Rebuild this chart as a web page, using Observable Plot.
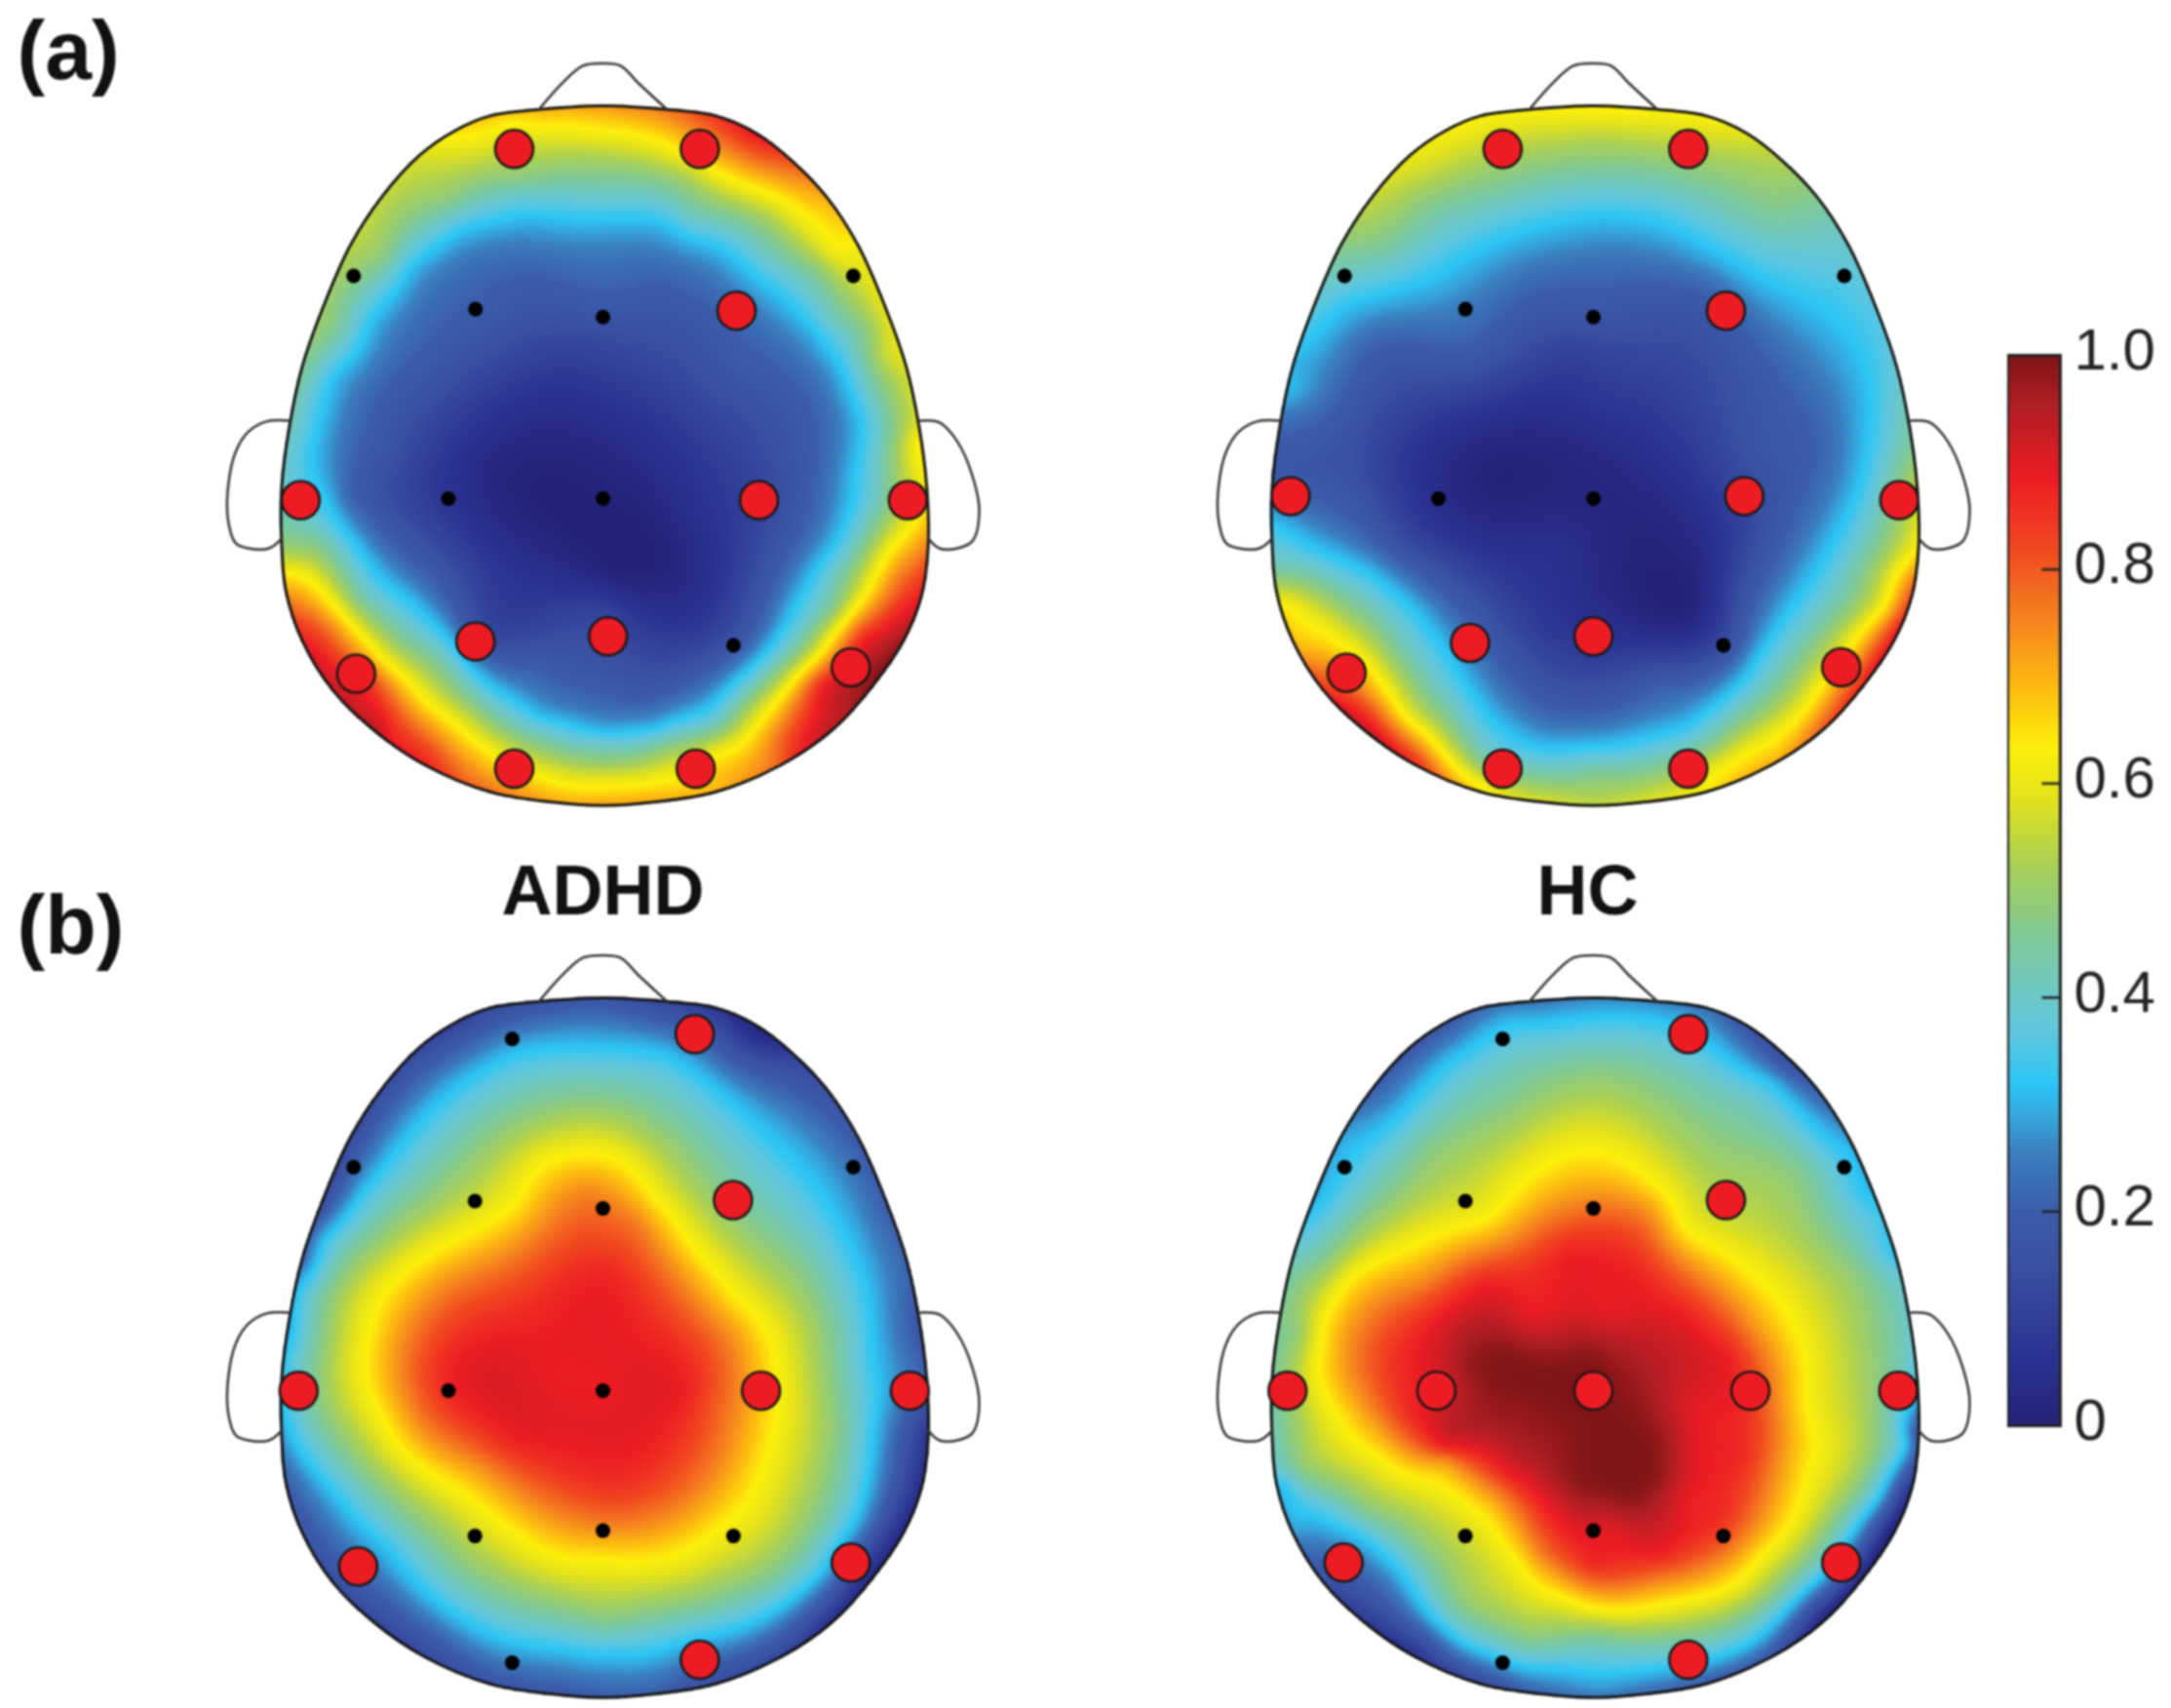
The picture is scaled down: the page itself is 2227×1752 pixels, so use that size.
<!DOCTYPE html>
<html><head><meta charset="utf-8">
<style>
html,body{margin:0;padding:0;background:#fff}
#fig{position:relative;width:2227px;height:1752px;overflow:hidden}
#fig svg{position:absolute;filter:blur(0.8px)}
</style>
<script src="https://cdn.jsdelivr.net/npm/d3@7"></script>
<script src="https://cdn.jsdelivr.net/npm/@observablehq/plot@0.6"></script>
</head><body><div id="fig"></div>
<script>
const colorStops = [0,.06,.15,.2,.253,.287,.32,.367,.4,.454,.52,.588,.634,.688,.755,.82,.885,.955,1];
const colorRamp = ["#232478","#2a3190","#3a50a2","#3b5cab","#3b7dbd","#35a5dc","#2cc6f5","#5fc6de","#6cc8c8","#7ec99a","#a6cf5a","#e4e21a","#fdf00b","#fdbd10","#f5821f","#f1481f","#ed1c24","#b01e23","#7f1416"];
const colorTicks = [0,.2,.4,.6,.8,1];

// Outline in head units (readings of the top-left panel)
const headOutline = [[780,115],[900,122],[1000,135],[1080,170],[1150,225],[1220,300],[1280,395],[1330,510],[1375,640],[1400,760],[1415,880],[1418,1000],[1405,1100],[1370,1190],[1310,1280],[1230,1370],[1130,1440],[1000,1495],[880,1515],[780,1522],[680,1515],[560,1495],[430,1440],[330,1370],[250,1290],[190,1190],[158,1090],[150,1000],[150,880],[165,760],[190,640],[235,510],[285,395],[345,300],[420,215],[490,165],[560,135],[660,122]];
const noseOutline = [[655,122],[700,70],[740,35],[780,30],[815,35],[850,70],[905,122]];
const leftEar = [[165,748],[120,750],[85,770],[60,810],[45,880],[45,950],[60,995],[85,1005],[125,1005],[150,985]];
const rightEar = [[1403,748],[1440,752],[1475,790],[1505,860],[1518,930],[1505,990],[1475,1005],[1440,1005],[1418,985]];

const samplesADHDa = [
[650,900,0],[780,905,0],[880,1040,0],[800,1060,.01],[560,860,.02],[950,930,.05],[1020,1020,.08],[780,700,.07],[700,620,.1],[600,1060,.07],[500,1000,.1],[780,1130,.11],
[530,525,.2],[780,500,.2],[780,560,.15],[1040,640,.18],[1150,800,.17],[1050,1200,.2],[530,1190,.17],[790,1280,.19],[350,800,.17],[280,900,.22],[1120,650,.2],[420,620,.2],[950,1270,.2],[640,1240,.2],
[780,340,.32],[620,335,.32],[500,365,.32],[400,440,.32],[320,550,.32],[250,660,.32],[210,800,.32],[235,900,.32],[310,1020,.32],[400,1110,.32],[480,1190,.32],[560,1280,.32],[660,1345,.32],[780,1375,.32],[880,1365,.32],[1000,1310,.32],[1090,1220,.32],[1160,1110,.32],[1235,990,.32],[1270,870,.32],[1285,760,.32],[1250,650,.32],[1190,560,.32],[1100,475,.32],[1000,395,.32],[900,350,.32],
[780,295,.4],[620,290,.4],[950,340,.4],[1100,420,.4],[1220,540,.4],[1320,760,.4],[1310,900,.4],[780,1395,.4],[1000,1350,.4],[1130,1210,.4],[1220,1070,.4],[660,1370,.4],[480,1230,.4],
[780,250,.47],[950,295,.47],[1100,370,.47],[1200,450,.47],[1290,570,.47],[1340,720,.47],[1340,860,.47],[1290,1000,.47],[1230,1120,.47],[1150,1220,.47],[1050,1320,.47],[900,1400,.47],[780,1425,.47],[650,1395,.47],[520,1310,.47],[400,1200,.47],[300,1110,.47],[220,1000,.47],[620,265,.47],[470,310,.47],[350,420,.47],[260,560,.45],
[780,205,.55],[620,205,.55],[470,240,.55],[950,250,.55],[1100,325,.55],[1230,440,.55],[1330,620,.55],[1380,760,.55],
[780,165,.63],[700,155,.63],[850,175,.63],[960,225,.63],[1100,290,.63],[1180,340,.63],[1240,400,.63],[1395,790,.63],[1340,1010,.63],[1290,1100,.63],[1200,1220,.63],[1120,1310,.63],[1000,1420,.63],[900,1470,.63],[780,1480,.63],[650,1460,.63],[540,1400,.63],[430,1310,.63],[350,1230,.63],[270,1140,.63],[190,1060,.63],[600,150,.63],
[780,118,.72],[900,125,.76],[1000,138,.84],[1080,175,.88],[1150,230,.8],[1220,305,.7],[1280,395,.62],[1330,510,.6],[1375,640,.58],[1400,760,.6],[1415,880,.63],[1418,1000,.76],[1405,1100,.89],[1370,1190,.98],[1310,1280,1],[1230,1370,.95],[1130,1440,.8],[1000,1495,.7],[880,1515,.72],[780,1522,.72],[680,1515,.72],[560,1495,.78],[430,1440,.88],[330,1370,.95],[250,1290,.93],[190,1190,.88],[158,1090,.72],[150,1000,.5],[150,880,.4],[165,760,.42],[190,640,.46],[235,510,.5],[285,395,.54],[345,300,.55],[420,215,.58],[490,165,.65],[560,135,.68],[660,122,.7],
[1060,220,.76],[1360,1060,.76],[1290,1180,.86],[1210,1280,.88],[1120,1380,.76],[320,1270,.84],[420,1380,.8],[230,1170,.8],
[350,1390,.9],[300,1340,.93],[500,1470,.8],[1260,1340,.95],[1330,1220,.97],[1150,1420,.85],[1310,1180,.88],[1210,1330,.9]
];
const samplesHCa = [
[600,850,0],[780,850,.02],[900,1050,0],[950,1120,0],[850,1130,.02],[1000,1000,.05],[700,1000,.05],[450,820,.05],[780,700,.08],[730,620,.1],
[772,540,.17],[520,600,.2],[1100,800,.17],[1200,800,.2],[1120,650,.2],[400,1000,.15],[300,900,.17],[220,800,.18],[640,1150,.1],[600,1250,.2],[900,1280,.2],[1070,1100,.17],[1030,1200,.15],[350,600,.2],[1000,500,.2],[800,450,.22],[650,470,.22],
[780,335,.32],[620,370,.32],[500,430,.32],[400,480,.32],[280,520,.32],[210,590,.32],[175,670,.32],[900,350,.32],[1000,400,.32],[1100,460,.32],[1200,510,.32],[1280,590,.32],[1310,680,.32],[1310,760,.32],[1290,880,.32],[1250,970,.32],[1180,1090,.32],[1100,1210,.32],[1040,1290,.32],[940,1365,.32],[800,1400,.32],[680,1405,.32],[600,1370,.32],[530,1290,.32],[480,1210,.32],[420,1130,.32],[340,1060,.32],[240,1010,.32],[155,960,.32],
[780,230,.47],[600,260,.47],[450,310,.47],[350,385,.47],[960,250,.47],[1120,310,.47],[180,1060,.47],[280,1110,.47],[380,1210,.47],[470,1330,.47],[560,1440,.47],[1300,1050,.47],[1220,1170,.47],[1130,1290,.47],[1000,1400,.47],[780,1460,.47],
[780,170,.55],[600,190,.55],[450,250,.55],[950,185,.55],[1080,230,.52],
[780,125,.63],[1400,1010,.63],[1340,1120,.63],[1260,1220,.63],[1190,1320,.63],[1080,1410,.63],[1000,1460,.63],[170,1120,.63],[240,1170,.63],[330,1240,.63],[400,1340,.63],[480,1420,.63],[560,1480,.63],
[900,125,.63],[1000,140,.62],[1100,180,.58],[1180,260,.5],[1250,350,.42],[1300,450,.38],[1350,570,.37],[1385,700,.42],[1405,800,.48],[1408,900,.58],[1408,1000,.63],[1400,1080,.8],[1370,1170,.9],[1310,1270,.9],[1230,1360,.82],[1130,1430,.7],[1000,1490,.63],[880,1510,.58],[780,1520,.55],[680,1515,.58],[560,1495,.62],[430,1430,.82],[330,1360,.9],[250,1290,.85],[190,1190,.68],[150,1050,.45],[145,960,.33],[145,880,.2],[155,760,.22],[180,640,.3],[230,510,.37],[280,400,.47],[345,300,.55],[420,215,.6],[490,165,.62],[560,135,.63],[660,122,.63]
];
const samplesADHDb = [
[780,130,.18],[900,140,.14],[1000,155,.1],[1080,190,.03],[1150,250,.12],[1220,330,.17],[1280,430,.2],[1340,560,.2],[1385,680,.2],[1405,800,.17],[1415,900,.2],[1418,1000,.08],[1405,1120,.04],[1370,1210,.02],[1310,1300,.02],[1230,1390,.05],[1130,1460,.12],[1000,1520,.14],[880,1540,.2],[780,1545,.2],[680,1540,.18],[560,1520,.17],[430,1460,.13],[330,1390,.13],[250,1310,.15],[190,1210,.17],[158,1110,.2],[150,1010,.28],[150,900,.33],[165,790,.3],[190,660,.23],[235,530,.15],[285,420,.15],[345,320,.15],[420,235,.14],[490,185,.13],[560,150,.14],[660,135,.17],
[780,225,.32],[600,240,.32],[500,300,.32],[400,400,.32],[300,530,.32],[230,620,.32],[180,720,.32],[170,1020,.32],[250,1130,.32],[350,1240,.32],[450,1350,.32],[560,1420,.32],[700,1450,.32],[800,1460,.32],[950,1430,.32],[1100,1380,.32],[1200,1300,.32],[1280,1170,.32],[1310,1000,.32],[1310,860,.32],[1280,670,.32],[1200,510,.32],[1100,400,.32],[1000,310,.32],[900,240,.32],
[780,330,.47],[640,350,.47],[530,420,.47],[430,520,.47],[330,610,.47],[240,730,.47],[220,850,.47],[220,950,.47],[300,1080,.47],[400,1180,.47],[500,1280,.47],[600,1340,.47],[780,1390,.47],[950,1360,.47],[1100,1300,.47],[1200,1170,.47],[1240,1000,.47],[1220,800,.47],[1170,680,.47],[1050,560,.47],[950,430,.47],[880,370,.47],
[730,440,.63],[650,470,.63],[600,545,.63],[480,620,.63],[370,700,.63],[320,800,.63],[310,880,.63],[340,970,.63],[400,1060,.63],[500,1130,.63],[600,1210,.63],[700,1265,.63],[780,1270,.63],[900,1265,.63],[1000,1210,.63],[1090,1090,.63],[1115,1000,.63],[1120,880,.63],[1040,730,.63],[950,620,.63],[880,530,.63],[820,460,.63],
[385,900,.75],[400,800,.75],[490,700,.75],[650,600,.75],[745,520,.75],[850,580,.75],[930,700,.75],[1020,810,.75],[1040,950,.75],[1010,1060,.75],[930,1160,.75],[800,1200,.75],[700,1180,.75],[550,1080,.75],[430,1000,.75],
[780,620,.82],[430,900,.82],[980,950,.82],[800,1150,.82],
[780,680,.87],[620,780,.87],[470,900,.87],[600,1030,.87],[780,1090,.87],[900,1020,.87],[950,930,.87],[860,790,.87],[780,925,.885],[680,900,.885]
];
const samplesHCb = [
[780,130,.27],[900,140,.27],[1000,155,.24],[1080,190,.17],[1150,250,.15],[1220,330,.22],[1280,430,.3],[1340,560,.33],[1385,680,.36],[1400,800,.38],[1408,925,.32],[1400,1010,.2],[1385,1120,.1],[1350,1210,.03],[1300,1300,.02],[1220,1380,.05],[1120,1460,.18],[1000,1520,.18],[880,1540,.22],[780,1545,.25],[680,1540,.22],[560,1510,.17],[430,1440,.13],[330,1370,.13],[240,1290,.18],[180,1190,.3],[150,1100,.37],[142,1010,.42],[142,900,.45],[158,790,.47],[185,660,.42],[225,530,.3],[280,420,.3],[340,320,.22],[415,235,.2],[480,185,.2],[550,150,.23],[660,135,.25],
[600,180,.32],[480,260,.32],[380,370,.32],[300,440,.32],[900,170,.32],[1000,220,.32],[1120,300,.32],[1230,410,.32],[1300,520,.32],[1360,640,.32],[160,1110,.32],[230,1180,.32],[310,1220,.32],[390,1290,.32],[450,1380,.32],[520,1440,.32],[700,1490,.32],[850,1495,.32],[1000,1470,.32],[1130,1390,.32],[1230,1290,.32],[1330,1140,.32],[1385,1030,.32],
[780,270,.47],[600,340,.47],[450,430,.47],[330,560,.47],[240,660,.47],[180,800,.47],[160,950,.47],[200,1090,.47],[330,1170,.47],[430,1240,.47],[510,1360,.47],[650,1430,.47],[780,1420,.47],[950,1420,.47],[1120,1340,.47],[1270,1150,.47],[1330,1000,.47],[1330,800,.47],[1290,680,.47],[1170,480,.47],[1030,400,.47],[900,310,.47],
[720,440,.63],[640,490,.63],[560,570,.63],[430,620,.63],[300,690,.63],[240,790,.63],[230,880,.63],[270,980,.63],[350,1060,.63],[470,1120,.63],[560,1190,.63],[620,1270,.63],[700,1340,.63],[800,1370,.63],[950,1350,.63],[1100,1260,.63],[1190,1100,.63],[1190,950,.63],[1170,800,.63],[1080,680,.63],[950,590,.63],[880,490,.63],[800,440,.63],
[750,540,.75],[600,620,.75],[440,700,.75],[320,780,.75],[300,880,.75],[350,980,.75],[480,1060,.75],[590,1140,.75],[660,1250,.75],[760,1320,.75],[900,1310,.75],[1060,1230,.75],[1120,1100,.75],[1130,950,.75],[1080,800,.75],[980,690,.75],[880,570,.75],
[720,650,.88],[560,700,.87],[470,760,.87],[400,860,.87],[410,960,.87],[480,1040,.88],[600,1090,.88],[700,1190,.88],[770,1280,.86],[900,1260,.87],[1010,1180,.87],[1060,1050,.87],[1060,950,.87],[1040,850,.87],[950,760,.87],[860,680,.87],
[464,925,.89],[960,950,.9],[980,1050,.89],[960,1150,.88],[1000,1000,.88],[800,1210,.89],[650,770,.89],[800,760,.89],
[520,880,.97],[600,830,.98],[760,840,.98],[850,930,.98],[900,1020,.98],[900,1100,.98],[830,1150,.98],[740,1120,.98],[700,1020,.98],[620,960,.98],[540,930,.97],
[640,890,1],[772,925,1],[820,1050,1],[790,1000,1],[700,900,1],[830,1100,1]
];

// Electrodes: red circles and black dots per map
const redADHDa = [[606,202],[970,202],[1042,527],[187,908],[1086,908],[1378,908],[530,1192],[790,1182],[296,1257],[1266,1244],[606,1448],[962,1448]];
const blackADHDa = [[291,457],[1271,457],[530,524],[780,540],[477,905],[780,905],[1036,1200]];
const redHCa = [[594,202],[958,202],[1032,527],[178,900],[1068,900],[1372,908],[530,1195],[772,1182],[288,1255],[1258,1244],[594,1448],[958,1448]];
const blackHCa = [[284,457],[1264,457],[521,524],[772,540],[468,905],[772,905],[1027,1200]];
const redADHDb = [[960,199],[1035,537],[183,925],[1090,925],[1382,925],[300,1283],[1266,1275],[970,1473]];
const blackADHDb = [[602,209],[291,470],[1271,470],[529,539],[780,554],[477,925],[780,925],[529,1221],[780,1210],[1036,1221],[602,1479]];
const redHCb = [[958,199],[1032,537],[172,925],[464,925],[772,925],[1080,925],[1370,925],[282,1275],[1258,1275],[958,1473]];
const blackHCb = [[594,209],[284,470],[1264,470],[521,539],[772,554],[521,1221],[772,1210],[1027,1221],[594,1479]];

const groupLabels = ["ADHD","HC"];
const panelLabels = ["(a)","(b)"];

const KX = 1.912;
const panels = [
  {cx:618, cy:511,  zx:780, zy:905, ky:1.96,  s:samplesADHDa, red:redADHDa, black:blackADHDa},
  {cx:1634,cy:511,  zx:772, zy:905, ky:1.96,  s:samplesHCa,   red:redHCa,   black:blackHCa},
  {cx:618, cy:1426, zx:780, zy:925, ky:1.985, s:samplesADHDb, red:redADHDb, black:blackADHDb},
  {cx:1634,cy:1426, zx:772, zy:925, ky:1.985, s:samplesHCb,   red:redHCb,   black:blackHCb}
];
const toPage = (p) => ([a,b,v]) => ({x:p.cx+(a-p.zx)/KX, y:p.cy+(b-p.zy)/p.ky, v});
// Outlines were read in the top-left panel, so they are placed from its own origin
const outlineAt = (p, pts, id) => pts.map(([a,b]) => ({x:p.cx+(a-780)/KX, y:p.cy+(b-905)/1.96, id}));

function solve(A, b){
  const n=b.length;
  for(let i=0;i<n;i++){
    let m=i; for(let r=i+1;r<n;r++) if(Math.abs(A[r][i])>Math.abs(A[m][i])) m=r;
    [A[i],A[m]]=[A[m],A[i]]; [b[i],b[m]]=[b[m],b[i]];
    for(let r=i+1;r<n;r++){ const f=A[r][i]/A[i][i]; if(f===0) continue; for(let c=i;c<n;c++) A[r][c]-=f*A[i][c]; b[r]-=f*b[i]; }
  }
  const x=new Float64Array(n);
  for(let i=n-1;i>=0;i--){ let t=b[i]; for(let c=i+1;c<n;c++) t-=A[i][c]*x[c]; x[i]=t/A[i][i]; }
  return x;
}
// Smooth spline through the scattered samples, blanked outside the head
const headInterpolator = (p, bx, by, k) => (index, w, h, X, Y, V) => {
  const cv=document.createElement("canvas"); cv.width=w; cv.height=h;
  const ctx=cv.getContext("2d",{willReadFrequently:true});
  ctx.scale(1/k,1/k); ctx.translate(-bx,-by);
  const headPts=outlineAt(p,headOutline,0).map(d=>[d.x,d.y]);
  ctx.fill(new Path2D(d3.line().curve(d3.curveCatmullRomClosed)(headPts)));
  const alpha=ctx.getImageData(0,0,w,h).data;
  const S=k/100, n=index.length;
  const px=Array.from(index,i=>X[i]*S), py=Array.from(index,i=>Y[i]*S), pv=Array.from(index,i=>V[i]);
  const A=[]; 
  for(let i=0;i<n+3;i++) A.push(new Float64Array(n+3));
  for(let i=0;i<n;i++){
    for(let j=0;j<n;j++){ const d=(px[i]-px[j])**2+(py[i]-py[j])**2; A[i][j]=d>0?d*Math.log(d):0; }
    A[i][i]=0.02;
    A[i][n]=1;A[i][n+1]=px[i];A[i][n+2]=py[i];A[n][i]=1;A[n+1][i]=px[i];A[n+2][i]=py[i];
  }
  const sol=solve(A,[...pv,0,0,0]);
  const W=new Float64Array(w*h).fill(NaN);
  for(let y=0;y<h;y++) for(let x=0;x<w;x++){
    if(alpha[(y*w+x)*4+3]<20) continue;
    const fx=x*S, fy=y*S;
    let t=sol[n]+sol[n+1]*fx+sol[n+2]*fy;
    for(let i=0;i<n;i++){ const dx=fx-px[i],dy=fy-py[i],d=dx*dx+dy*dy; if(d>0) t+=sol[i]*d*Math.log(d); }
    W[y*w+x]=Math.max(0,Math.min(1,t));
  }
  return W;
};

const PIXEL=2, STROKE="#161616";
const marks=[];
for(const p of panels){
  const data=p.s.map(toPage(p));
  const x1=p.cx-420,x2=p.cx+420,y1=p.cy-470,y2=p.cy+340;
  marks.push(Plot.raster(data,{x:"x",y:"y",fill:"v",x1,x2,y1,y2,pixelSize:PIXEL,interpolate:headInterpolator(p,x1,y1,PIXEL)}));
}
for(const p of panels){
  marks.push(Plot.line(outlineAt(p,headOutline,"h"),{x:"x",y:"y",curve:"catmull-rom-closed",stroke:STROKE,strokeWidth:3}));
  marks.push(Plot.line(outlineAt(p,noseOutline,"n"),{x:"x",y:"y",curve:"catmull-rom",stroke:"#333",strokeWidth:2.5}));
  marks.push(Plot.line(outlineAt(p,leftEar,"l"),{x:"x",y:"y",curve:"catmull-rom",stroke:"#333",strokeWidth:2.5}));
  marks.push(Plot.line(outlineAt(p,rightEar,"r"),{x:"x",y:"y",curve:"catmull-rom",stroke:"#333",strokeWidth:2.5}));
  marks.push(Plot.dot(p.black.map(toPage(p)),{x:"x",y:"y",r:7.5,fill:"#000"}));
  marks.push(Plot.dot(p.red.map(toPage(p)),{x:"x",y:"y",r:19.5,fill:"#ed1c24",stroke:STROKE,strokeWidth:2.5}));
}
const font='"Liberation Sans",Arial,sans-serif';
marks.push(Plot.text(panelLabels,{x:[17,17],y:[80,977],text:d=>d,fontSize:86,fontWeight:"bold",textAnchor:"start",lineAnchor:"bottom",fontFamily:font,fill:"#111"}));
marks.push(Plot.text(groupLabels,{x:[618,1628],y:[937,937],text:d=>d,fontSize:72,fontWeight:"bold",textAnchor:"middle",lineAnchor:"bottom",fontFamily:font,fill:"#111"}));

const colorOpt={type:"linear",domain:colorStops,range:colorRamp,clamp:true,legend:false};
const main=Plot.plot({width:2227,height:1752,margin:0,
  x:{domain:[0,2227],axis:null},y:{domain:[1752,0],axis:null},color:colorOpt,
  style:{background:"transparent",fontFamily:font},marks});
main.style.left="0";main.style.top="0";

const bar=Plot.plot({width:168,height:1198,marginLeft:0,marginRight:114,marginTop:50,marginBottom:50,
  x:{domain:[0,1],axis:null},y:{domain:[0,1],axis:null},color:colorOpt,
  style:{background:"transparent",fontFamily:font},
  marks:[
    Plot.raster({fill:(x,y)=>y,x1:0,x2:1,y1:0,y2:1,pixelSize:1}),
    Plot.ruleY(colorTicks.slice(1,-1),{x1:0.66,x2:1,stroke:"#222",strokeWidth:2.5}),
    Plot.frame({stroke:"#222",strokeWidth:3}),
    Plot.text(colorTicks,{y:d=>d,x:1,text:d=>d===0?"0":d.toFixed(1),dx:14,dy:-5,textAnchor:"start",fontSize:60,fill:"#222",fontFamily:font})
  ]});
bar.style.left="2059px";bar.style.top="314px";
const fig=document.getElementById("fig");
fig.append(main,bar);
</script>
</body></html>
